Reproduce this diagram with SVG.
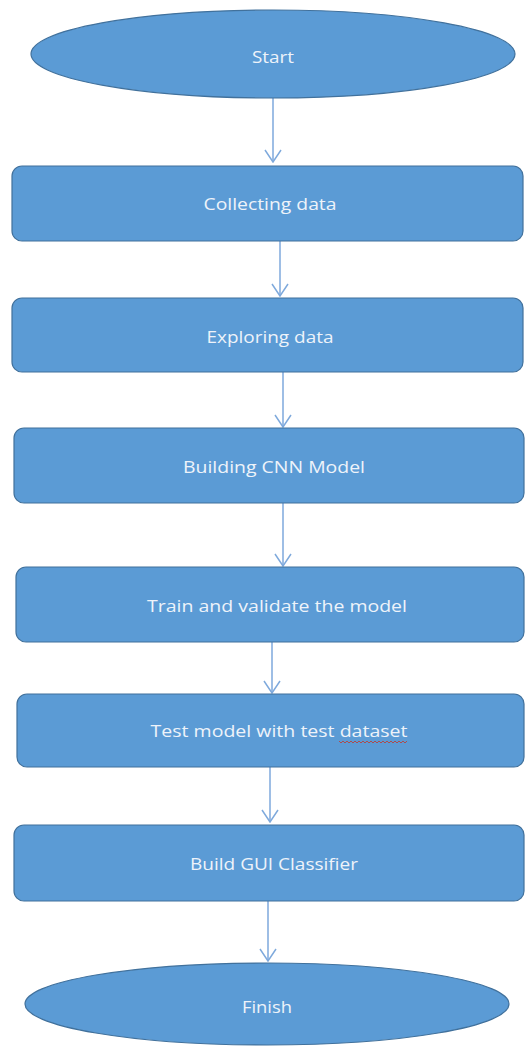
<svg xmlns="http://www.w3.org/2000/svg" width="529" height="1047" viewBox="0 0 529 1047">
<style>
.shape{fill:#5b9bd5;stroke:#41719c;stroke-width:1.2}
.lbl{font-family:"Open Sans","Liberation Sans",sans-serif;font-size:17px;fill:#eef3fa;text-anchor:middle}
.conn{stroke:#7ea9dc;stroke-width:1.5;fill:none}
</style>
<defs>
<marker id="arr" markerWidth="14" markerHeight="18" refX="13" refY="9" orient="auto" markerUnits="userSpaceOnUse" viewBox="0 0 14 18">
<path d="M1,1 L13,9 L1,17" fill="none" stroke="#7ea9dc" stroke-width="1.5"/>
</marker>
</defs>
<rect width="529" height="1047" fill="#ffffff"/>
<g id="connectors">
<line class="conn" x1="273" y1="98" x2="273" y2="162" marker-end="url(#arr)"/>
<line class="conn" x1="280" y1="241" x2="280" y2="296" marker-end="url(#arr)"/>
<line class="conn" x1="283" y1="372" x2="283" y2="427" marker-end="url(#arr)"/>
<line class="conn" x1="283" y1="503" x2="283" y2="566" marker-end="url(#arr)"/>
<line class="conn" x1="272" y1="642" x2="272" y2="693" marker-end="url(#arr)"/>
<line class="conn" x1="270" y1="767" x2="270" y2="822" marker-end="url(#arr)"/>
<line class="conn" x1="268" y1="901" x2="268" y2="961" marker-end="url(#arr)"/>
</g>
<g id="start">
<ellipse class="shape" cx="273" cy="54" rx="242" ry="44"/>
<text class="lbl" x="273" y="63" textLength="42" lengthAdjust="spacingAndGlyphs">Start</text>
</g>
<g id="collecting">
<rect class="shape" x="12" y="166" width="511" height="75" rx="10"/>
<text class="lbl" x="270" y="210" textLength="133" lengthAdjust="spacingAndGlyphs">Collecting data</text>
</g>
<g id="exploring">
<rect class="shape" x="12" y="298" width="511" height="74" rx="10"/>
<text class="lbl" x="270" y="343" textLength="127" lengthAdjust="spacingAndGlyphs">Exploring data</text>
</g>
<g id="building">
<rect class="shape" x="14" y="428" width="510" height="75" rx="10"/>
<text class="lbl" x="274" y="473" textLength="182" lengthAdjust="spacingAndGlyphs">Building CNN Model</text>
</g>
<g id="train">
<rect class="shape" x="16" y="567" width="508" height="75" rx="10"/>
<text class="lbl" x="277" y="612" textLength="260" lengthAdjust="spacingAndGlyphs">Train and validate the model</text>
</g>
<g id="test">
<rect class="shape" x="17" y="694" width="507" height="73" rx="10"/>
<text class="lbl" x="279" y="737" textLength="257" lengthAdjust="spacingAndGlyphs">Test model with test dataset</text>
<path d="M339,741 l2,2 l2,-2 l2,2 l2,-2 l2,2 l2,-2 l2,2 l2,-2 l2,2 l2,-2 l2,2 l2,-2 l2,2 l2,-2 l2,2 l2,-2 l2,2 l2,-2 l2,2 l2,-2 l2,2 l2,-2 l2,2 l2,-2 l2,2 l2,-2 l2,2 l2,-2 l2,2 l2,-2 l2,2 l2,-2 l2,2 l2,-2" fill="none" stroke="#c0392b" stroke-width="0.8"/>
</g>
<g id="gui">
<rect class="shape" x="14" y="825" width="510" height="76" rx="10"/>
<text class="lbl" x="274" y="870" textLength="168" lengthAdjust="spacingAndGlyphs">Build GUI Classifier</text>
</g>
<g id="finish">
<ellipse class="shape" cx="267" cy="1004" rx="242" ry="41"/>
<text class="lbl" x="267" y="1013" textLength="50" lengthAdjust="spacingAndGlyphs">Finish</text>
</g>
</svg>
